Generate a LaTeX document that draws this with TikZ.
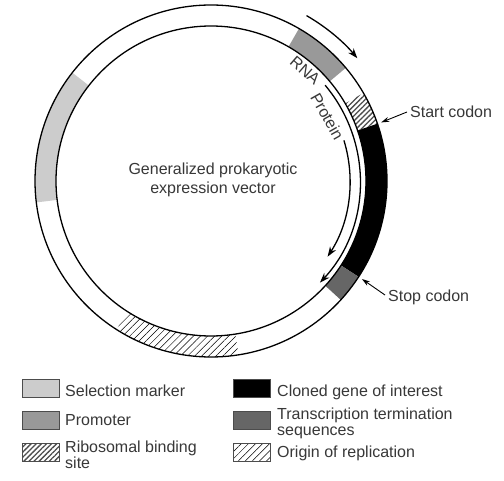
\documentclass[tikz,border=0pt]{standalone}
\usepackage{fontspec}
\setmainfont{Liberation Sans}
\usetikzlibrary{arrows.meta,patterns.meta}
\newcommand\ringseg[3]{\path[#1] (#2:\Ro) arc[start angle=#2,end angle=#3,radius=\Ro] -- (#3:\Ri) arc[start angle=#3,end angle=#2,radius=\Ri] -- cycle;}
\begin{document}
\begin{tikzpicture}[x=1pt,y=1pt,
  lbl/.style={font=\fontsize{16}{16.5}\selectfont, text=black!78, inner sep=0pt},
  ring/.style={line width=1.3pt},
  arr/.style={line width=1.3pt,-{Stealth[length=10pt,width=7pt]}},
  pointer/.style={line width=0.9pt,-{Stealth[length=8pt,width=5pt]}},
  keybox/.style={draw=black!70, line width=0.8pt, minimum width=37pt, minimum height=18pt, inner sep=0pt, anchor=south west},
  rbs/.style={pattern={Lines[angle=45,distance=3.6pt,line width=1.3pt]},pattern color=black!70},
  ori/.style={pattern={Lines[angle=45,distance=5pt,line width=0.5pt]},pattern color=black},
]
\useasboundingbox (0,0) rectangle (504,480);
\fill[white] (0,0) rectangle (504,480);
\def\Ro{176}\def\Ri{155}
\begin{scope}[shift={(211,299)}]
  \ringseg{fill=black!20}{142}{187}
  \ringseg{fill=black!40}{40}{60}
  \ringseg{rbs}{19}{30}
  \ringseg{fill=black}{-33}{19}
  \ringseg{fill=black!60}{-42.5}{-33}
  \ringseg{ori}{-122.5}{-81}
  \draw[ring] (0,0) circle[radius=\Ro];
  \draw[ring] (0,0) circle[radius=\Ri];
  \draw[arr] (60:191) arc[start angle=60,end angle=40,radius=191];
  \draw[arr] (40:149) arc[start angle=40,end angle=-43,radius=149];
  \draw[arr] (17:139) arc[start angle=17,end angle=-33,radius=139];
  \node[lbl, rotate=-41] (rna) at (49.5:145) {RNA};
  \node[lbl, rotate=-60.6] (prot) at (29:133) {Protein};
  \coordinate (sc) at (19:180);
  \coordinate (tc) at (-33:180);
  \node[lbl, align=center, font=\fontsize{16}{19}\selectfont] (title) at (2,1) {Generalized prokaryotic\\expression vector};
\end{scope}
\node[lbl, anchor=west] (start) at (410,368) {Start codon};
\draw[pointer] ([xshift=-3pt]start.west) -- (sc);
\node[lbl, anchor=west] (stop) at (388,183) {Stop codon};
\draw[pointer] ([xshift=-3pt,yshift=2pt]stop.west) -- (tc);
% legend
\node[keybox, fill=black!20] (k1) at (22,82) {};
\node[lbl, anchor=base west] (t1) at (65,84) {Selection marker};
\node[keybox, fill=black!40] (k2) at (22,50) {};
\node[lbl, anchor=base west] (t2) at (65,55) {Promoter};
\node[keybox, rbs] (k3) at (22,18) {};
\node[lbl, anchor=north west, align=left] (t3) at (65,39.7) {Ribosomal binding\\site};
\node[keybox, fill=black] (k4) at (233,82) {};
\node[lbl, anchor=base west] (t4) at (277,84) {Cloned gene of interest};
\node[keybox, fill=black!60] (k5) at (233,50) {};
\node[lbl, anchor=north west, align=left] (t5) at (277,72.6) {Transcription termination\\sequences};
\node[keybox, ori] (k6) at (233,18) {};
\node[lbl, anchor=base west] (t6) at (277,23) {Origin of replication};
\end{tikzpicture}
\end{document}
